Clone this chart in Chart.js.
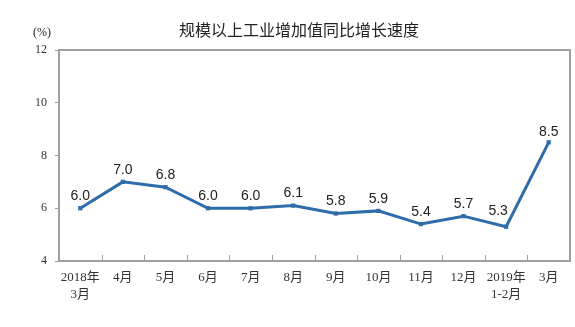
<!DOCTYPE html>
<html>
<head>
<meta charset="utf-8">
<script src="https://cdn.jsdelivr.net/npm/chart.js@4"></script>
<style>
  html, body { margin: 0; padding: 0; background: #fff; }
  #wrap { width: 575px; height: 327px; }
</style>
</head>
<body>
<div id="wrap"><canvas id="growthChart" width="575" height="327"></canvas></div>
<script>
const months = [['2018年', '3月'], '4月', '5月', '6月', '7月', '8月', '9月', '10月', '11月', '12月', ['2019年', '1-2月'], '3月'];
const growth = [6.0, 7.0, 6.8, 6.0, 6.0, 6.1, 5.8, 5.9, 5.4, 5.7, 5.3, 8.5];
const yTicks = [4, 6, 8, 10, 12];

const lineColor = '#2f6caa';
const axisColor = '#a0a0a0';
const serif = '"Liberation Serif", "Noto Sans CJK SC", serif';

// title, unit, frame, inner x ticks and value labels
const decor = {
  id: 'decor',
  afterDraw(chart) {
    const { ctx, chartArea: a } = chart;
    const x = chart.scales.x;
    ctx.save();

    ctx.strokeStyle = axisColor;
    ctx.lineWidth = 2;
    ctx.strokeRect(a.left, a.top, a.right - a.left, a.bottom - a.top);

    // short ticks pointing up between categories
    ctx.lineWidth = 1;
    const step = x.getPixelForValue(1) - x.getPixelForValue(0);
    for (let i = 0; i < months.length - 1; i++) {
      const px = Math.round(x.getPixelForValue(i) + step / 2) + 0.5;
      ctx.beginPath();
      ctx.moveTo(px, a.bottom);
      ctx.lineTo(px, a.bottom - 6);
      ctx.stroke();
    }

    ctx.fillStyle = '#222';
    ctx.textAlign = 'center';
    ctx.textBaseline = 'middle';
    ctx.font = '16px "Noto Sans CJK SC", sans-serif';
    ctx.fillText('规模以上工业增加值同比增长速度', 299, 30);

    ctx.font = '12px ' + serif;
    ctx.fillText('(%)', 42, 33);

    ctx.font = '14px "Liberation Sans", Arial, sans-serif';
    const meta = chart.getDatasetMeta(0);
    meta.data.forEach((pt, i) => {
      let dx = 0, dy = 12;
      if (i === 10) { dx = -8; dy = 16; }
      if (i === 11) { dy = 10; }
      ctx.fillText(growth[i].toFixed(1), pt.x + dx, pt.y - dy);
    });
    ctx.restore();
  }
};

new Chart(document.getElementById('growthChart').getContext('2d'), {
  type: 'line',
  data: {
    labels: months,
    datasets: [{
      data: growth,
      borderColor: lineColor,
      backgroundColor: lineColor,
      borderWidth: 3,
      pointStyle: 'rect',
      pointRadius: 3,
      pointBorderWidth: 0,
      tension: 0
    }]
  },
  options: {
    responsive: false,
    animation: false,
    layout: { padding: { left: 0, right: 5, top: 50, bottom: 0 } },
    plugins: {
      legend: { display: false },
      tooltip: { enabled: false },
      title: { display: false }
    },
    scales: {
      x: {
        offset: true,
        grid: { display: false, drawTicks: false },
        border: { display: false },
        ticks: {
          color: '#333',
          font: { family: serif, size: 13, lineHeight: 1.3 },
          padding: 8,
          maxRotation: 0,
          autoSkip: false
        },
        afterFit: s => { s.height = 66; }
      },
      y: {
        min: 4,
        max: 12,
        afterBuildTicks: s => { s.ticks = yTicks.map(v => ({ value: v })); },
        grid: { drawOnChartArea: false, tickLength: 4, color: axisColor },
        border: { display: false },
        ticks: {
          color: '#333',
          font: { family: serif, size: 12 },
          padding: 8
        },
        afterFit: s => { s.width = 59; }
      }
    }
  },
  plugins: [decor]
});
</script>
</body>
</html>
